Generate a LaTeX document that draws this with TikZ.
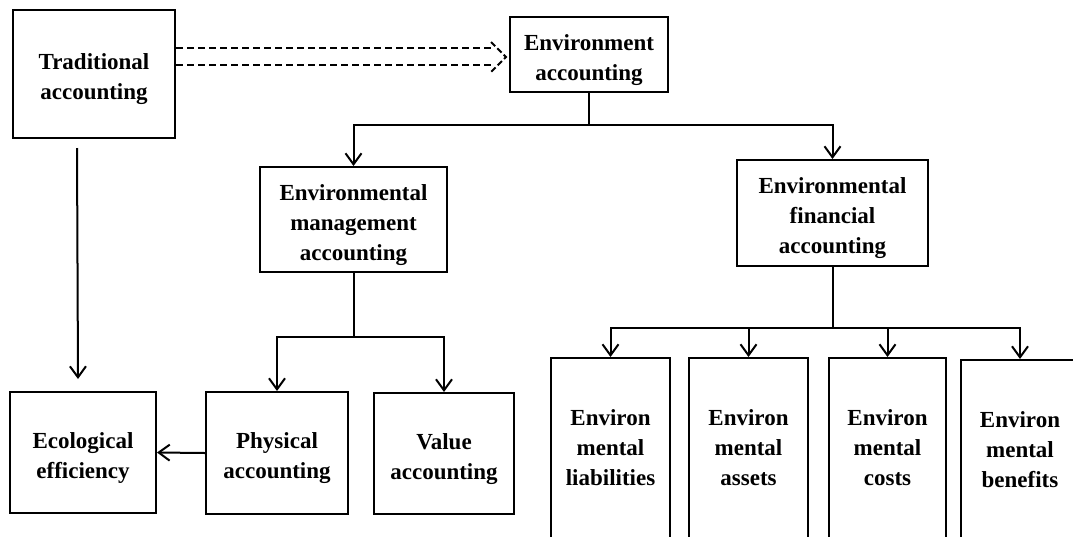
\documentclass[tikz,border=0pt]{standalone}
\usepackage{fontspec}
\setmainfont{Liberation Serif}
\usetikzlibrary{arrows.meta,calc}
\newcommand\tstrut{\rule{0pt}{27pt}}
\begin{document}
\begin{tikzpicture}[x=1pt,y=-1pt,
  box/.style={draw, line width=2pt, align=center, inner sep=0pt,
    font=\fontsize{23}{30}\selectfont\bfseries},
  conn/.style={line width=2pt},
  arr/.style={conn, -{Straight Barb[length=11pt,width=16pt,line width=2pt]}},
  dsh/.style={conn, dash pattern=on 7pt off 4pt}]
\useasboundingbox (0,0) rectangle (1073,536);
\clip (0,0) rectangle (1073,536);
% nodes
\node[box, minimum width=162, minimum height=128] (trad) at (94,74) {\tstrut Traditional\\accounting};
\node[box, minimum width=158, minimum height=75] (envacc) at (589,54.5) {\tstrut Environment\\accounting};
\node[box, minimum width=187, minimum height=105] (mgmt) at (353.5,219.5) {\tstrut Environmental\\management\\accounting};
\node[box, minimum width=191, minimum height=106] (fin) at (832.5,213) {\tstrut Environmental\\financial\\accounting};
\node[box, minimum width=146, minimum height=121] (eco) at (83,452.5) {\tstrut Ecological\\efficiency};
\node[box, minimum width=142, minimum height=122] (phys) at (277,453) {\tstrut Physical\\accounting};
\node[box, minimum width=140, minimum height=121] (val) at (444,453.5) {\tstrut Value\\accounting};
\node[box, minimum width=119, minimum height=180] (liab) at (610.5,448) {Environ\\mental\\liabilities};
\node[box, minimum width=119, minimum height=180] (assets) at (748.5,448) {Environ\\mental\\assets};
\node[box, minimum width=117, minimum height=180] (costs) at (887.5,448) {Environ\\mental\\costs};
\node[box, minimum width=118, minimum height=180] (ben) at (1020,450) {Environ\\mental\\benefits};
% double dashed hollow arrow
\coordinate (tip) at ($(envacc.west)+(-3,2.5)$);
\coordinate (tipT) at ($(tip)+(-15,-15)$);
\coordinate (tipB) at ($(tip)+(-15,15)$);
\draw[dsh] (trad.east |- 0,48) -- (tipT |- 0,48);
\draw[dsh] (trad.east |- 0,65) -- (tipT |- 0,65);
\draw[conn, dash pattern=on 6pt off 3pt, line join=miter] (tipT) -- (tip) -- (tipB);
% connectors
\coordinate (j1) at (envacc.south |- 0,125);
\draw[conn] (envacc.south) -- (j1);
\draw[arr] (j1) -| (mgmt.north);
\draw[arr] (j1) -| (fin.north);
\coordinate (j2) at (mgmt.south |- 0,337);
\draw[conn] (mgmt.south) -- (j2);
\draw[arr] (j2) -| (phys.north);
\draw[arr] (j2) -| (val.north);
\coordinate (j3) at (fin.south |- 0,328);
\draw[conn] (fin.south) -- (j3);
\draw[arr] (j3) -| (liab.north);
\draw[arr] (j3) -| (assets.north);
\draw[arr] (j3) -| (costs.north);
\draw[arr] (j3) -| (ben.north);
\draw[arr] ($(trad.south)+(-17,9)$) -- ($(eco.north)+(-5,-12)$);
\draw[arr] (phys.west) -- (eco.east);
\end{tikzpicture}
\end{document}
